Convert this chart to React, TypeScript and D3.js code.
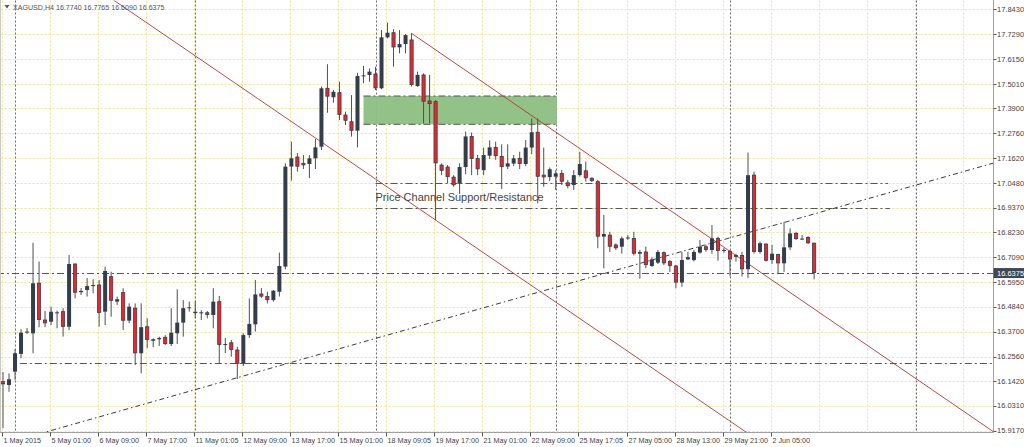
import React from 'react';
import * as d3 from 'd3';

const W = 1024;
const H = 447;

const headerText = 'XAGUSD,H4  16.7740 16.7765 16.6090 16.6375';

const opens = [
  16.141, 16.126, 16.187, 16.268, 16.366, 16.362, 16.591, 16.423, 16.415, 16.454,
  16.461, 16.392, 16.679, 16.550, 16.560, 16.578, 16.583, 16.461, 16.621, 16.507,
  16.548, 16.420, 16.477, 16.271, 16.392, 16.328, 16.335, 16.344, 16.313, 16.362,
  16.411, 16.477, 16.459, 16.456, 16.456, 16.446, 16.507, 16.309, 16.319, 16.286,
  16.223, 16.354, 16.403, 16.542, 16.530, 16.514, 16.552, 16.667, 17.124, 17.168,
  17.139, 17.136, 17.162, 17.215, 17.482, 17.441, 17.462, 17.360, 17.329, 17.288,
  17.538, 17.543, 17.547, 17.482, 17.715, 17.736, 17.669, 17.684, 17.703, 17.492,
  17.543, 17.424, 17.421, 17.131, 17.122, 17.076, 17.046, 17.122, 17.262, 17.161,
  17.108, 17.174, 17.212, 17.171, 17.124, 17.138, 17.162, 17.136, 17.211, 17.281,
  17.085, 17.076, 17.078, 17.093, 17.050, 17.040, 17.085, 17.105, 17.071, 17.055,
  16.804, 16.811, 16.766, 16.758, 16.798, 16.796, 16.726, 16.734, 16.670, 16.685,
  16.731, 16.690, 16.670, 16.594, 16.700, 16.697, 16.731, 16.758, 16.743, 16.796,
  16.740, 16.737, 16.718, 16.718, 16.655, 17.085, 16.734, 16.770, 16.697, 16.722,
  16.682, 16.755, 16.819, 16.793, 16.800, 16.774,
];
const highs = [
  16.185, 16.179, 16.289, 16.381, 16.386, 16.776, 16.690, 16.464, 16.484, 16.466,
  16.477, 16.720, 16.681, 16.569, 16.615, 16.609, 16.606, 16.667, 16.644, 16.530,
  16.568, 16.499, 16.499, 16.499, 16.431, 16.339, 16.347, 16.354, 16.477, 16.563,
  16.514, 16.507, 16.507, 16.468, 16.464, 16.568, 16.533, 16.341, 16.332, 16.301,
  16.362, 16.522, 16.606, 16.569, 16.552, 16.560, 16.731, 17.139, 17.238, 17.186,
  17.177, 17.177, 17.250, 17.490, 17.592, 17.474, 17.512, 17.375, 17.451, 17.553,
  17.584, 17.573, 17.580, 17.748, 17.782, 17.752, 17.748, 17.730, 17.733, 17.558,
  17.550, 17.543, 17.428, 17.139, 17.131, 17.085, 17.139, 17.284, 17.280, 17.177,
  17.211, 17.244, 17.238, 17.226, 17.226, 17.177, 17.192, 17.246, 17.344, 17.344,
  17.211, 17.120, 17.108, 17.108, 17.063, 17.108, 17.192, 17.147, 17.075, 17.063,
  16.903, 16.826, 16.773, 16.804, 16.811, 16.826, 16.743, 16.758, 16.710, 16.743,
  16.736, 16.697, 16.674, 16.735, 16.734, 16.743, 16.789, 16.766, 16.857, 16.804,
  16.752, 16.743, 16.726, 16.734, 17.188, 17.101, 16.781, 16.774, 16.766, 16.726,
  16.872, 16.842, 16.826, 16.811, 16.806, 16.7765,
];
const lows = [
  15.929, 16.095, 16.149, 16.248, 16.359, 16.271, 16.390, 16.390, 16.400, 16.385,
  16.347, 16.377, 16.522, 16.537, 16.530, 16.545, 16.392, 16.400, 16.438, 16.492,
  16.377, 16.408, 16.217, 16.179, 16.294, 16.298, 16.304, 16.309, 16.304, 16.313,
  16.347, 16.461, 16.431, 16.423, 16.431, 16.385, 16.225, 16.272, 16.255, 16.153,
  16.213, 16.341, 16.370, 16.524, 16.499, 16.507, 16.530, 16.655, 17.060, 17.101,
  17.113, 17.072, 17.113, 17.200, 17.370, 17.416, 17.337, 17.314, 17.261, 17.212,
  17.505, 17.512, 17.474, 17.478, 17.710, 17.581, 17.642, 17.642, 17.490, 17.489,
  17.322, 17.322, 16.880, 17.085, 17.048, 17.032, 16.999, 17.089, 17.085, 17.085,
  17.085, 17.159, 17.155, 17.022, 17.113, 17.126, 17.113, 17.126, 17.181, 16.956,
  17.032, 17.058, 17.017, 17.040, 17.025, 17.017, 17.078, 17.055, 17.054, 16.751,
  16.659, 16.734, 16.743, 16.726, 16.789, 16.718, 16.612, 16.659, 16.666, 16.679,
  16.674, 16.643, 16.568, 16.575, 16.697, 16.690, 16.726, 16.735, 16.726, 16.694,
  16.730, 16.622, 16.690, 16.622, 16.614, 16.726, 16.726, 16.690, 16.679, 16.636,
  16.643, 16.743, 16.789, 16.789, 16.770, 16.609,
];
const closes = [
  16.129, 16.152, 16.271, 16.365, 16.370, 16.591, 16.423, 16.408, 16.461, 16.458,
  16.392, 16.679, 16.548, 16.556, 16.578, 16.583, 16.456, 16.647, 16.511, 16.518,
  16.420, 16.484, 16.271, 16.390, 16.332, 16.335, 16.341, 16.313, 16.365, 16.411,
  16.477, 16.481, 16.456, 16.458, 16.446, 16.507, 16.309, 16.313, 16.286, 16.223,
  16.354, 16.405, 16.540, 16.530, 16.514, 16.557, 16.670, 17.124, 17.162, 17.124,
  17.130, 17.162, 17.212, 17.482, 17.444, 17.466, 17.360, 17.334, 17.288, 17.538,
  17.541, 17.558, 17.482, 17.715, 17.736, 17.669, 17.684, 17.725, 17.497, 17.543,
  17.421, 17.410, 17.139, 17.105, 17.076, 17.039, 17.122, 17.262, 17.159, 17.112,
  17.177, 17.212, 17.172, 17.122, 17.139, 17.162, 17.136, 17.211, 17.281, 17.078,
  17.075, 17.112, 17.093, 17.055, 17.035, 17.085, 17.136, 17.071, 17.058, 16.804,
  16.816, 16.758, 16.751, 16.796, 16.800, 16.726, 16.734, 16.674, 16.700, 16.734,
  16.682, 16.670, 16.594, 16.697, 16.710, 16.734, 16.758, 16.743, 16.796, 16.739,
  16.743, 16.700, 16.711, 16.655, 17.085, 16.734, 16.774, 16.694, 16.726, 16.682,
  16.755, 16.819, 16.793, 16.795, 16.774, 16.6375,
];

const timeLabels = [
  '1 May 2015', '5 May 01:00', '6 May 09:00', '7 May 17:00', '11 May 01:05',
  '12 May 09:00', '13 May 17:00', '15 May 01:00', '18 May 09:05', '19 May 17:00',
  '21 May 01:00', '22 May 09:00', '25 May 17:05', '27 May 05:00', '28 May 13:00',
  '29 May 21:00', '2 Jun 05:00',
];
const labelStep = 8;
const gridBarCount = 21;
const priceTicks = [
  17.843, 17.729, 17.615, 17.501, 17.39, 17.276, 17.162, 17.048, 16.937,
  16.823, 16.709, 16.595, 16.484, 16.37, 16.256, 16.142, 16.031, 15.917,
];
const weekStartBars = [2, 32, 62, 92, 121, 152];

// horizontal dash-dot levels: price, start bar, end bar
const levelPrices = [16.6375, 16.228, 17.048, 16.936];
const levelStarts = [-1, 2.8, 62, 62];
const levelEnds = [170, 170, 147.3, 147.6];

// green zone
const zoneBars = [60, 92.2];
const zonePrices = [17.3174, 17.4467];

// channel lines (two anchor points each: [bar, price])
const channelUpper = [[68, 17.733], [130.4, 16.56]];
const channelLower = [[19.1, 17.872], [86.6, 16.606]];
const channelUpperFrom = 68;
const risingTrend = [[32.8, 16.111], [164.7, 17.139]];

const annotation = 'Price Channel Support/Resistance';
const annotationBar = 62;
const annotationPrice = 16.967;

const lastPrice = 16.6375;

const FONT = "'Liberation Sans', Arial, sans-serif";

export default function App() {
  const x = d3.scaleLinear().domain([0, 135]).range([3, 814.1]);
  const y = d3.scaleLinear().domain([15.917, 17.843]).range([430.7, 9.3]);
  const plotL = 0.5;
  const plotR = 993.5;
  const plotT = 0.5;
  const plotB = 432.5;
  const tickShift = -1.3;

  const lineAt = (pts: number[][], bar: number) => {
    const [[b0, p0], [b1, p1]] = pts;
    return p0 + ((p1 - p0) * (bar - b0)) / (b1 - b0);
  };

  const gridBars = d3.range(gridBarCount).map((k) => k * labelStep);

  const bull = '#343e4b';
  const bear = '#e8272d';

  return (
    <svg
      width={W}
      height={H}
      viewBox={`0 0 ${W} ${H}`}
      style={{ position: 'absolute', left: 0, top: 0, background: '#fff' }}
      fontFamily={FONT}
    >
      <defs>
        <clipPath id="plot">
          <rect x={plotL} y={plotT} width={plotR - plotL} height={plotB - plotT} />
        </clipPath>
      </defs>
      <rect x={0} y={0} width={W} height={H} fill="#fff" />

      {/* grid */}
      <g stroke="#ece49a" strokeWidth={1} strokeDasharray="2,2">
        {priceTicks.map((p, i) => (
          <line key={'h' + i} x1={plotL} x2={plotR} y1={Math.round(y(p)) + 0.5} y2={Math.round(y(p)) + 0.5} />
        ))}
        {gridBars.map((b) => (
          <line key={'v' + b} x1={Math.round(x(b) + tickShift) + 0.5} x2={Math.round(x(b) + tickShift) + 0.5} y1={plotT} y2={plotB} />
        ))}
      </g>

      {/* week separators */}
      <g stroke="#6d6d6d" strokeWidth={1} strokeDasharray="2,2">
        {weekStartBars.map((b) => (
          <line key={'w' + b} x1={Math.round(x(b)) + 0.5} x2={Math.round(x(b)) + 0.5} y1={plotT} y2={plotB} />
        ))}
      </g>

      <g clipPath="url(#plot)">
        {/* green zone */}
        <rect
          x={x(zoneBars[0])}
          y={y(zonePrices[1])}
          width={x(zoneBars[1]) - x(zoneBars[0])}
          height={y(zonePrices[0]) - y(zonePrices[1])}
          fill="#8dbf82"
          fillOpacity={0.95}
        />
        <g stroke="#555" strokeWidth={1} strokeDasharray="7,3,2,3">
          {zonePrices.map((p, i) => (
            <line key={'z' + i} x1={x(zoneBars[0])} x2={x(zoneBars[1])} y1={y(p)} y2={y(p)} />
          ))}
        </g>

        {/* levels */}
        <g stroke="#555" strokeWidth={1} strokeDasharray="7,3,2,3">
          {levelPrices.map((p, i) => (
            <line
              key={'l' + i}
              x1={x(levelStarts[i])}
              x2={Math.min(plotR, x(levelEnds[i]))}
              y1={Math.round(y(p)) + 0.5}
              y2={Math.round(y(p)) + 0.5}
            />
          ))}
        </g>

        {/* rising trend */}
        <line
          x1={x(-10)}
          y1={y(lineAt(risingTrend, -10))}
          x2={x(175)}
          y2={y(lineAt(risingTrend, 175))}
          stroke="#222"
          strokeWidth={0.9}
          strokeDasharray="5,3,1.5,3"
        />

        {/* channel */}
        <line
          x1={x(-10)}
          y1={y(lineAt(channelLower, -10))}
          x2={x(175)}
          y2={y(lineAt(channelLower, 175))}
          stroke="#b5352e"
          strokeWidth={0.9}
        />
        <line
          x1={x(channelUpperFrom)}
          y1={y(lineAt(channelUpper, channelUpperFrom))}
          x2={x(175)}
          y2={y(lineAt(channelUpper, 175))}
          stroke="#b5352e"
          strokeWidth={0.9}
        />

        {/* candles */}
        {opens.map((o, i) => {
          const c = closes[i];
          const up = c >= o;
          const cx = x(i);
          const top = y(Math.max(o, c));
          const bot = y(Math.min(o, c));
          const bh = Math.max(1, bot - top);
          return (
            <g key={'c' + i}>
              <line x1={cx} x2={cx} y1={y(highs[i])} y2={y(lows[i])} stroke="#4f4f4f" strokeWidth={1} />
              {up ? (
                <rect x={cx - 2} y={top} width={4} height={bh} fill={bull} />
              ) : (
                <rect x={cx - 1.6} y={top} width={3.2} height={Math.max(0.6, bh - 0.4)} fill={bear} stroke={bull} strokeWidth={0.8} />
              )}
            </g>
          );
        })}

        {/* annotation */}
        <text x={x(annotationBar)} y={y(annotationPrice)} fontSize={11} fill="#444">
          {annotation}
        </text>
      </g>

      {/* header */}
      <path d="M4.5,5 L9.5,5 L7,8.5 Z" fill="#555" />
      <text x={13} y={10} fontSize={7.1} fill="#555">
        {headerText}
      </text>

      {/* borders */}
      <line x1={plotR} x2={plotR} y1={0} y2={plotB} stroke="#a0a0a0" />
      <line x1={0} x2={plotR} y1={plotB} y2={plotB} stroke="#a0a0a0" />
      <line x1={plotL} x2={plotL} y1={0} y2={plotB} stroke="#c8c8c8" />

      {/* y axis */}
      {priceTicks.map((p, i) => (
        <g key={'yt' + i}>
          <line x1={plotR} x2={plotR + 3} y1={Math.round(y(p)) + 0.5} y2={Math.round(y(p)) + 0.5} stroke="#555" />
          <text x={997} y={y(p) + 2.6} fontSize={7.5} fill="#444">
            {p.toFixed(4)}
          </text>
        </g>
      ))}

      {/* last price tag */}
      <rect x={plotR} y={y(lastPrice) - 5} width={W - plotR} height={10} fill="#3e4855" />
      <text x={997} y={y(lastPrice) + 2.6} fontSize={7.5} fill="#fff">
        {lastPrice.toFixed(4)}
      </text>

      {/* x axis */}
      {timeLabels.map((t, k) => {
        const tx = Math.round(x(k * labelStep) + tickShift) + 0.5;
        return (
          <g key={'xt' + k}>
            <line x1={tx} x2={tx} y1={plotB} y2={plotB + 4} stroke="#555" />
            <text x={tx + 1} y={443} fontSize={7.2} fill="#444">
              {t}
            </text>
          </g>
        );
      })}
    </svg>
  );
}
